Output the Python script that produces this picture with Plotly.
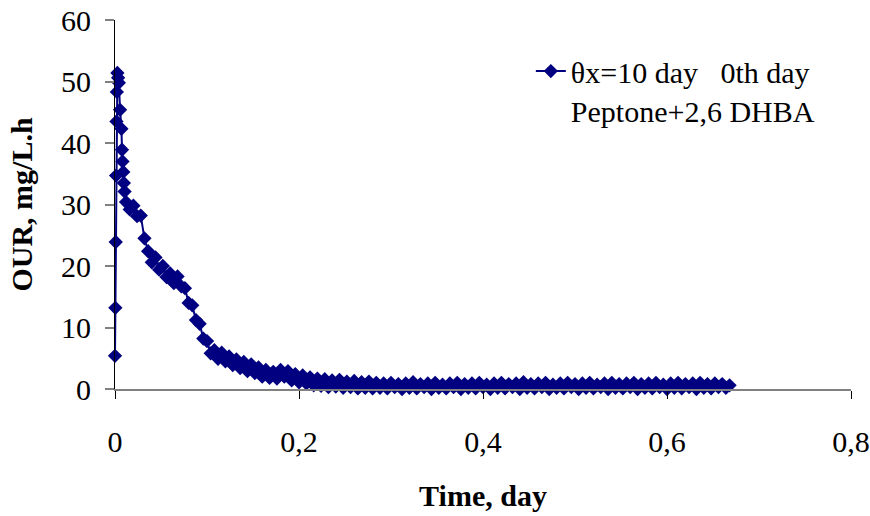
import plotly.graph_objects as go

# ---- data ----
series_name = "θx=10 day\u00a0\u00a0\u00a00th day<br>Peptone+2,6 DHBA"

# very first samples (the start-up spike)
time_early = [0.0, 0.0004, 0.0008, 0.0012, 0.0016, 0.0020, 0.0026, 0.0034,
              0.0042, 0.0055, 0.0070, 0.0076, 0.0082, 0.0090, 0.0096, 0.0104]
our_early = [5.4, 13.2, 23.9, 34.7, 43.5, 48.3, 51.4, 50.6,
             49.8, 45.4, 42.3, 38.9, 37.0, 35.3, 33.5, 32.1]

# regular sampling afterwards (noisy measurements)
t_start = 0.012
t_step = 0.004
our_regular = [
    30.4, 29.2, 29.8, 28.1, 28.2, 24.5, 22.4, 20.6, 21.4, 19.4,
    20.0, 18.2, 18.8, 17.2, 18.3, 16.7, 16.4, 14.0, 13.6, 11.2,
    10.6, 8.2, 7.8, 5.8, 6.3, 4.9, 5.9, 4.5, 5.3, 3.9,
    4.8, 3.4, 4.4, 2.9, 4.0, 2.6, 3.5, 2.0, 3.1, 1.8,
    2.8, 1.7, 3.1, 2.0, 2.9, 1.4, 2.4, 1.1, 2.2, 0.9,
    1.9, 0.6, 1.7, 0.5, 1.6, 0.3, 1.4, 0.4, 1.5, 0.2,
    1.2, 0.3, 1.3, 0.1, 1.1, 0.2, 1.2, 0.1, 1.0,
    0.2, 0.9, 0.1, 1.0, 0.3, 0.8, 0.0, 0.9, 0.2, 1.1,
    0.1, 0.8, 0.3, 0.9, 0.0, 1.0, 0.2, 0.7, 0.1, 0.9,
    0.3, 1.0, 0.0, 0.8, 0.2, 0.9, 0.1, 1.0, 0.3, 0.7,
    0.0, 0.9, 0.2, 1.0, 0.1, 0.8, 0.3, 0.9, 0.0, 1.1,
    0.2, 0.8, 0.1, 0.9, 0.3, 1.0, 0.0, 0.7, 0.2, 0.9,
    0.1, 1.0, 0.3, 0.8, 0.0, 0.9, 0.2, 1.0, 0.1, 0.7,
    0.3, 0.9, 0.0, 1.0, 0.2, 0.8, 0.1, 0.9, 0.3, 1.0,
    0.0, 0.8, 0.2, 0.9, 0.1, 1.0, 0.3, 0.7, 0.0, 0.9,
    0.2, 1.0, 0.1, 0.8, 0.3, 0.9, 0.0, 1.0, 0.2, 0.8,
    0.1, 0.9, 0.3, 0.8, 0.2, 0.6,
]
time_regular = [round(t_start + t_step * i, 4) for i in range(len(our_regular))]

time_day = time_early + time_regular
our_values = our_early + our_regular

x_ticks = [0, 0.2, 0.4, 0.6, 0.8]
x_tick_labels = ["0", "0,2", "0,4", "0,6", "0,8"]
y_ticks = [0, 10, 20, 30, 40, 50, 60]

FONT = "Liberation Serif, Times New Roman, serif"
NAVY = "#000080"

fig = go.Figure()
fig.add_trace(go.Scatter(
    x=time_day, y=our_values, mode="lines+markers", name=series_name,
    line=dict(color=NAVY, width=2),
    marker=dict(symbol="diamond", size=11, color=NAVY),
    cliponaxis=False,
))

fig.update_layout(
    width=870, height=516,
    margin=dict(l=115, r=19, t=20, b=127),
    paper_bgcolor="white", plot_bgcolor="white",
    font=dict(family=FONT, size=30, color="black"),
    showlegend=True,
    legend=dict(x=0.565, y=0.932, xanchor="left", yanchor="top",
                valign="top", bgcolor="rgba(0,0,0,0)",
                font=dict(family=FONT, size=30, color="black")),
    xaxis=dict(range=[0, 0.8], tickvals=x_ticks, ticktext=x_tick_labels,
               automargin=False, ticklabelstandoff=17,
               showline=True, linecolor="#808080", linewidth=2,
               ticks="outside", tickcolor="black", ticklen=8, tickwidth=1,
               showgrid=False, zeroline=False,
               title=dict(text="<b>Time, day</b>", standoff=28,
                          font=dict(family=FONT, size=30))),
    yaxis=dict(range=[0, 60], tickvals=y_ticks, automargin=False,
               ticklabelstandoff=8,
               showline=True, linecolor="black", linewidth=1,
               ticks="outside", tickcolor="#808080", ticklen=9, tickwidth=2,
               showgrid=False, zeroline=False,
               title=dict(text="<b>OUR, mg/L.h</b>", standoff=19,
                          font=dict(family=FONT, size=30))),
)

fig.write_html("out.html")
